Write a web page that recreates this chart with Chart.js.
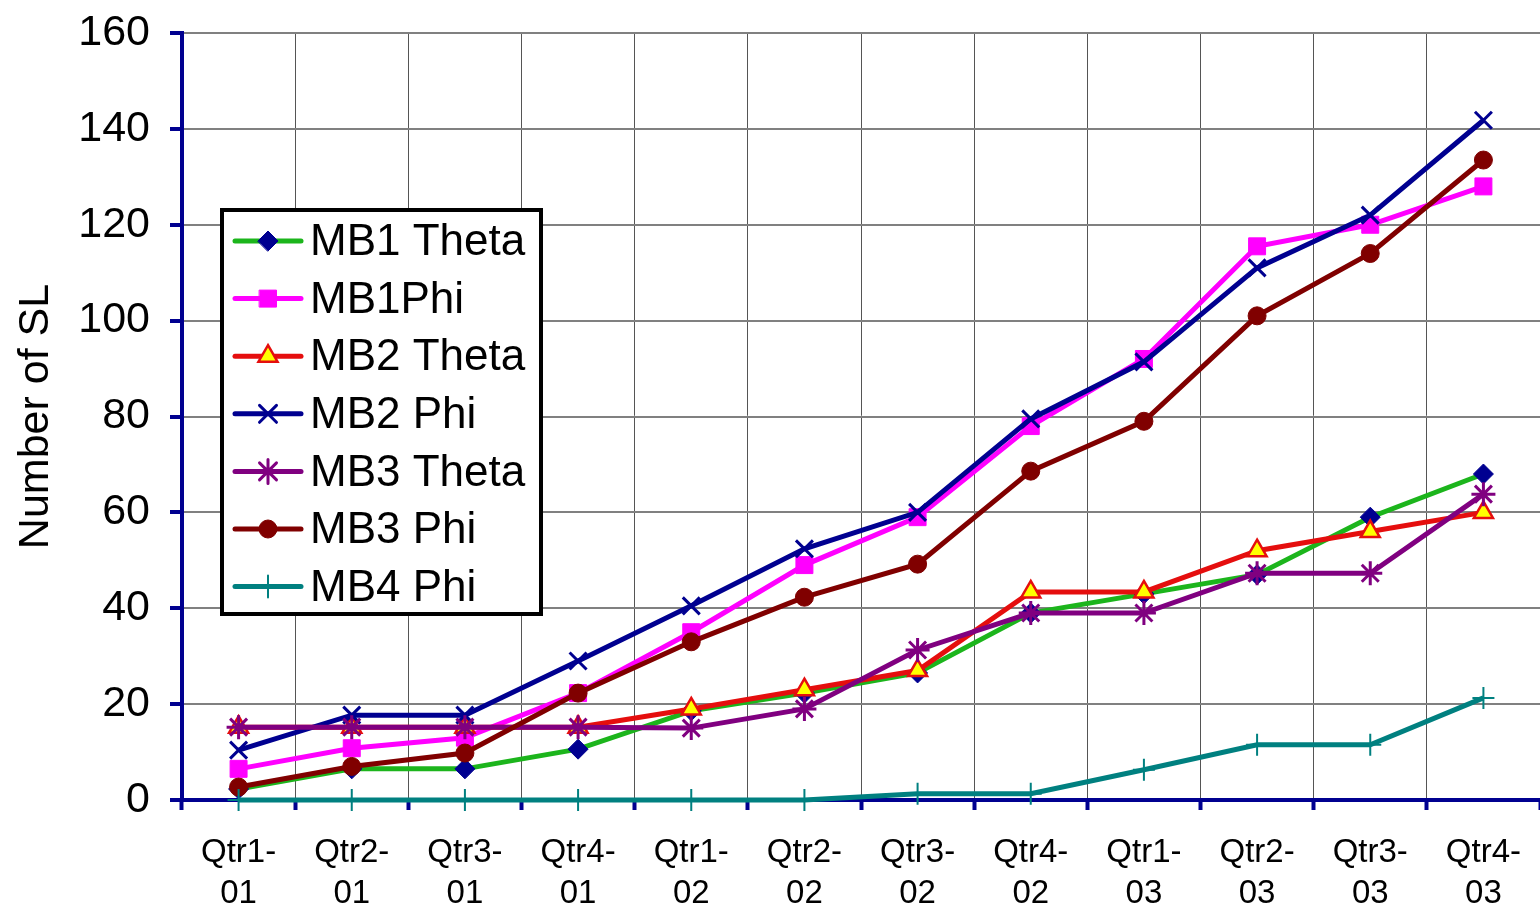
<!DOCTYPE html>
<html>
<head>
<meta charset="utf-8">
<script src="https://cdn.jsdelivr.net/npm/chart.js@4/dist/chart.umd.min.js"></script>
<style>
  html, body { margin: 0; padding: 0; background: #fff; }
  #wrap { position: relative; width: 1540px; height: 911px; }
</style>
</head>
<body>
<div id="wrap"><canvas id="chart" width="1540" height="911"></canvas></div>
<script>
/* ── Data ─────────────────────────────────────────────────────── */
var quarters = [
  ['Qtr1-', '01'], ['Qtr2-', '01'], ['Qtr3-', '01'], ['Qtr4-', '01'],
  ['Qtr1-', '02'], ['Qtr2-', '02'], ['Qtr3-', '02'], ['Qtr4-', '02'],
  ['Qtr1-', '03'], ['Qtr2-', '03'], ['Qtr3-', '03'], ['Qtr4-', '03']
];
var mb1Theta = [2.3, 6.5, 6.5, 10.6, 18.6, 22.3, 26.5, 39, 43, 47, 59, 68];
var mb1Phi   = [6.5, 10.8, 13, 22.3, 35, 49, 59, 78, 92, 115.5, 120, 128];
var mb2Theta = [15.2, 15.2, 15.2, 15.2, 19, 23, 27, 43.4, 43.4, 52, 56, 60];
var mb2Phi   = [10.4, 17.7, 17.7, 29, 40.5, 52.4, 60, 79.5, 91.4, 111, 122, 141.8];
var mb3Theta = [15.2, 15.2, 15.2, 15.2, 15, 19, 31.3, 39, 39, 47.3, 47.3, 63.8];
var mb3Phi   = [2.7, 7, 9.8, 22.3, 33, 42.3, 49.2, 68.6, 79, 101, 114, 133.5];
var mb4Phi   = [0, 0, 0, 0, 0, 0, 1.3, 1.3, 6.3, 11.5, 11.5, 21.3];
var yTicks = [0, 20, 40, 60, 80, 100, 120, 140, 160];

var FONT = "'Liberation Sans', Arial, sans-serif";
var NAVY = '#000090';

/* ── Series styles ────────────────────────────────────────────── */
var seriesDefs = [
  { label: 'MB1 Theta', data: mb1Theta, line: '#1cb51c', style: 'rectRot', fill: NAVY, stroke: NAVY, r: 10, bw: 1 },
  { label: 'MB1Phi',    data: mb1Phi,   line: '#ff00ff', style: 'rect',    fill: '#ff00ff', stroke: '#ff00ff', r: 12, bw: 1 },
  { label: 'MB2 Theta', data: mb2Theta, line: '#e50e0e', style: 'triangle', fill: '#ffff00', stroke: '#e50e0e', r: 11, bw: 2.5 },
  { label: 'MB2 Phi',   data: mb2Phi,   line: NAVY,      style: 'crossRot', fill: NAVY, stroke: NAVY, r: 12, bw: 3 },
  { label: 'MB3 Theta', data: mb3Theta, line: '#800080', style: 'star',    fill: '#800080', stroke: '#800080', r: 12, bw: 3 },
  { label: 'MB3 Phi',   data: mb3Phi,   line: '#800000', style: 'circle',  fill: '#800000', stroke: '#800000', r: 9, bw: 1 },
  { label: 'MB4 Phi',   data: mb4Phi,   line: '#008080', style: 'cross',   fill: '#008080', stroke: '#008080', r: 11, bw: 2 }
];

var datasets = seriesDefs.map(function(s, i) {
  return {
    label: s.label,
    data: s.data,
    borderColor: s.line,
    backgroundColor: s.line,
    borderWidth: 5,
    tension: 0,
    clip: false,
    order: seriesDefs.length - i,
    pointStyle: s.style,
    pointRadius: s.r,
    pointHoverRadius: s.r,
    pointBackgroundColor: s.fill,
    pointBorderColor: s.stroke,
    pointBorderWidth: s.bw
  };
});

/* ── Legend box drawn inside the plot ─────────────────────────── */
var boxLegend = {
  id: 'boxLegend',
  afterDraw: function(chart) {
    var ctx = chart.ctx;
    var x0 = 222, y0 = 210, w = 319, h = 404;
    ctx.save();
    ctx.fillStyle = '#fff';
    ctx.fillRect(x0, y0, w, h);
    ctx.lineWidth = 4;
    ctx.strokeStyle = '#000';
    ctx.strokeRect(x0, y0, w, h);
    seriesDefs.forEach(function(s, i) {
      var cy = 241 + i * 57.6;
      ctx.beginPath();
      ctx.lineWidth = 5;
      ctx.strokeStyle = s.line;
      ctx.lineCap = 'round';
      ctx.moveTo(235, cy);
      ctx.lineTo(301, cy);
      ctx.stroke();
      ctx.fillStyle = s.fill;
      ctx.strokeStyle = s.stroke;
      ctx.lineWidth = s.bw;
      Chart.helpers.drawPoint(ctx, { pointStyle: s.style, radius: s.r, borderWidth: s.bw, rotation: 0 }, 268, cy);
      ctx.fillStyle = '#000';
      ctx.font = '44px ' + FONT;
      ctx.textBaseline = 'middle';
      ctx.textAlign = 'left';
      ctx.fillText(s.label, 310, cy + 2);
    });
    ctx.restore();
  }
};

/* ── Chart ────────────────────────────────────────────────────── */
new Chart(document.getElementById('chart'), {
  type: 'line',
  data: { labels: quarters, datasets: datasets },
  plugins: [boxLegend],
  options: {
    responsive: false,
    animation: false,
    events: [],
    layout: { autoPadding: false, padding: { top: 33, right: 0, left: 0, bottom: 0 } },
    plugins: { legend: { display: false }, tooltip: { enabled: false } },
    scales: {
      x: {
        offset: true,
        grid: { offset: true, color: '#555', lineWidth: 1, tickColor: NAVY, tickLength: 10, tickWidth: 4 },
        border: { color: NAVY, width: 4 },
        ticks: {
          color: '#000', font: { family: FONT, size: 33, lineHeight: 1.25 }, padding: 22,
          maxRotation: 0, autoSkip: false
        },
        afterFit: function(scale) {
          scale.height = 111;
          scale.paddingLeft = 0;
          scale.paddingRight = 0;
        }
      },
      y: {
        min: 0, max: 160,
        afterBuildTicks: function(scale) {
          scale.ticks = yTicks.map(function(v) { return { value: v }; });
        },
        grid: { color: '#808080', lineWidth: 2, tickColor: NAVY, tickLength: 12, tickWidth: 4 },
        border: { color: NAVY, width: 4 },
        ticks: { color: '#000', font: { family: FONT, size: 43 }, padding: 20 },
        title: {
          display: true, text: 'Number of SL', color: '#000',
          font: { family: FONT, size: 43 }, padding: { top: 10, bottom: 0 }
        },
        afterFit: function(scale) {
          scale.width = 182;
          scale.paddingTop = 0;
          scale.paddingBottom = 0;
        }
      }
    }
  }
});
</script>
</body>
</html>
